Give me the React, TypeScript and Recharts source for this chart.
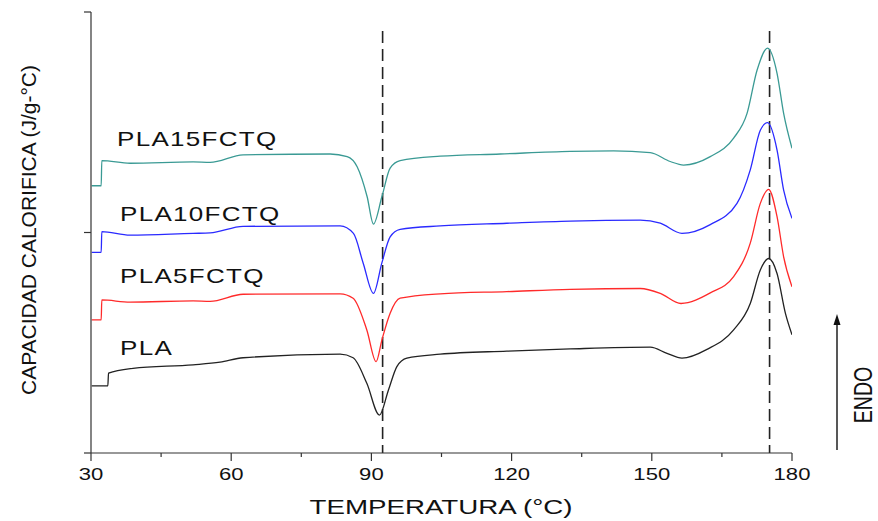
import { LineChart, Line, XAxis, YAxis, ReferenceLine } from 'recharts';

const FONT = '"Liberation Sans", Arial, sans-serif';

// temperatura (°C) y capacidad calorifica (unidades arbitrarias, curvas desplazadas)
const plaTemp = [30.15, 33.6, 33.75, 38.99, 51.84, 57.62, 62.54, 83.31, 86.09, 89.02, 91.72, 93.65, 95.45, 97.59, 104.72, 118.99, 132.55, 149.67, 153.25, 156.46, 161.81, 167.51, 171.07, 173.22, 175.0, 176.8, 178.58, 180.0];
const plaCp = [15.2, 15.2, 18.1, 19.2, 20.0, 20.6, 21.6, 22.4, 21.6, 15.8, 8.6, 14.3, 19.6, 21.5, 22.4, 23.1, 23.6, 24.0, 22.6, 21.5, 23.5, 27.9, 33.9, 41.5, 44.1, 40.7, 31.7, 26.8];

const pla5Temp = [30.15, 32.18, 32.31, 38.35, 51.84, 55.48, 62.54, 83.31, 86.09, 89.02, 91.01, 92.24, 94.01, 96.15, 104.72, 118.99, 132.55, 147.53, 151.81, 156.25, 162.51, 167.51, 171.07, 173.22, 175.0, 176.8, 178.21, 180.0];
const pla5Cp = [30.2, 30.2, 34.7, 34.2, 34.5, 34.4, 36.0, 36.1, 35.1, 27.9, 20.7, 25.6, 31.7, 35.1, 36.1, 36.6, 37.1, 37.3, 36.2, 33.9, 36.3, 40.0, 47.6, 56.6, 59.8, 53.6, 44.5, 37.7];

const pla10Temp = [30.15, 32.18, 32.31, 38.35, 51.84, 55.48, 62.54, 83.31, 86.16, 88.23, 90.44, 92.24, 94.01, 96.15, 104.72, 118.99, 132.55, 147.53, 151.81, 156.46, 162.51, 168.23, 171.07, 173.22, 174.79, 176.8, 178.21, 180.0];
const pla10Cp = [45.5, 45.5, 50.2, 49.4, 49.8, 49.9, 51.4, 51.5, 49.8, 43.1, 36.2, 43.1, 49.0, 50.7, 51.5, 52.1, 52.6, 52.8, 52.1, 49.8, 51.8, 56.6, 64.2, 73.2, 74.9, 68.7, 59.6, 53.2];

const pla15Temp = [30.15, 32.18, 32.31, 38.35, 51.84, 55.48, 62.54, 81.17, 84.81, 86.95, 89.09, 90.44, 92.24, 94.01, 96.15, 104.72, 117.56, 132.55, 141.82, 149.67, 153.95, 156.8, 162.51, 167.51, 170.38, 172.52, 174.79, 176.8, 178.21, 180.0];
const pla15Cp = [60.6, 60.6, 66.3, 65.7, 66.0, 65.9, 67.6, 67.8, 67.2, 64.9, 58.1, 51.9, 58.1, 64.6, 66.3, 67.3, 67.8, 68.4, 68.5, 68.1, 66.1, 65.3, 67.2, 71.4, 77.0, 86.8, 91.8, 86.1, 77.0, 69.1];

const xTicks = [30, 45, 60, 75, 90, 105, 120, 135, 150, 165, 180];
const xLabels = [30, 60, 90, 120, 150, 180];
const yTicks = [0, 50, 100];
const markerTemps = [92.4, 175.2];

const toRows = (t: number[], v: number[]) => t.map((x, i) => ({ temp: x, cp: v[i] }));

const series = [
  { name: 'PLA', rows: toRows(plaTemp, plaCp), color: '#222222' },
  { name: 'PLA5FCTQ', rows: toRows(pla5Temp, pla5Cp), color: '#ff2a2a' },
  { name: 'PLA10FCTQ', rows: toRows(pla10Temp, pla10Cp), color: '#2a2aff' },
  { name: 'PLA15FCTQ', rows: toRows(pla15Temp, pla15Cp), color: '#3a9a94' },
];

// etiquetas de las curvas
const curveLabels = [
  { text: 'PLA15FCTQ', x: 117, y: 146 },
  { text: 'PLA10FCTQ', x: 120, y: 221 },
  { text: 'PLA5FCTQ', x: 120, y: 283 },
  { text: 'PLA', x: 120, y: 355 },
];

function TempTick(props: any) {
  const { x, y, payload } = props;
  const major = xLabels.includes(payload.value);
  return (
    <g>
      <line x1={x} x2={x} y1={y} y2={y + (major ? 8 : 4)} stroke="#333" strokeWidth={1.2} />
      {major && (
        <text
          transform={`translate(${x},${y + 27}) scale(1.3,1)`}
          textAnchor="middle"
          fontSize={17}
          fontFamily={FONT}
          fill="#111"
        >
          {payload.value}
        </text>
      )}
    </g>
  );
}

export default function App() {
  return (
    <div style={{ position: 'absolute', left: 0, top: 0, width: 878, height: 521, background: '#fff' }}>
      <LineChart width={878} height={521} margin={{ top: 12, right: 86, left: 81, bottom: 38 }}>
        <XAxis
          dataKey="temp"
          type="number"
          domain={[30, 180]}
          ticks={xTicks}
          interval={0}
          height={30}
          stroke="#333"
          strokeWidth={1.2}
          tickLine={false}
          tickSize={0}
          tickMargin={0}
          tick={<TempTick />}
          allowDataOverflow
        />
        <YAxis
          type="number"
          domain={[0, 100]}
          ticks={yTicks}
          width={10}
          stroke="#333"
          strokeWidth={1.2}
          tickSize={7}
          tickFormatter={() => ''}
          allowDataOverflow
        />
        {markerTemps.map((t) => (
          <ReferenceLine
            key={t}
            segment={[{ x: t, y: 95.7 }, { x: t, y: 0 }]}
            stroke="#222"
            strokeWidth={1.6}
            strokeDasharray="12 6"
          />
        ))}
        {series.map((s) => (
          <Line
            key={s.name}
            data={s.rows}
            dataKey="cp"
            type="monotone"
            stroke={s.color}
            strokeWidth={1.3}
            dot={false}
            isAnimationActive={false}
          />
        ))}
      </LineChart>

      <svg
        width={878}
        height={521}
        style={{ position: 'absolute', left: 0, top: 0, pointerEvents: 'none' }}
      >
        {curveLabels.map((l) => (
          <text
            key={l.text}
            transform={`translate(${l.x},${l.y}) scale(1.3,1)`}
            fontSize={20}
            letterSpacing={1}
            fontFamily={FONT}
            fill="#111"
          >
            {l.text}
          </text>
        ))}
        <text
          transform="translate(36,230) rotate(-90)"
          textAnchor="middle"
          fontSize={21}
          fontFamily={FONT}
          fill="#111"
        >
          CAPACIDAD CALORIFICA (J/g-°C)
        </text>
        <text
          transform="translate(441,514) scale(1.32,1)"
          textAnchor="middle"
          fontSize={21}
          fontFamily={FONT}
          fill="#111"
        >
          TEMPERATURA (°C)
        </text>
        <line x1={837} x2={837} y1={450} y2={322} stroke="#111" strokeWidth={1.4} />
        <polygon points="837,314 833.5,325 840.5,325" fill="#111" />
        <text
          transform="translate(872,395) rotate(-90) scale(1,1.3)"
          textAnchor="middle"
          fontSize={19.5}
          fontFamily={FONT}
          fill="#111"
        >
          ENDO
        </text>
      </svg>
    </div>
  );
}
